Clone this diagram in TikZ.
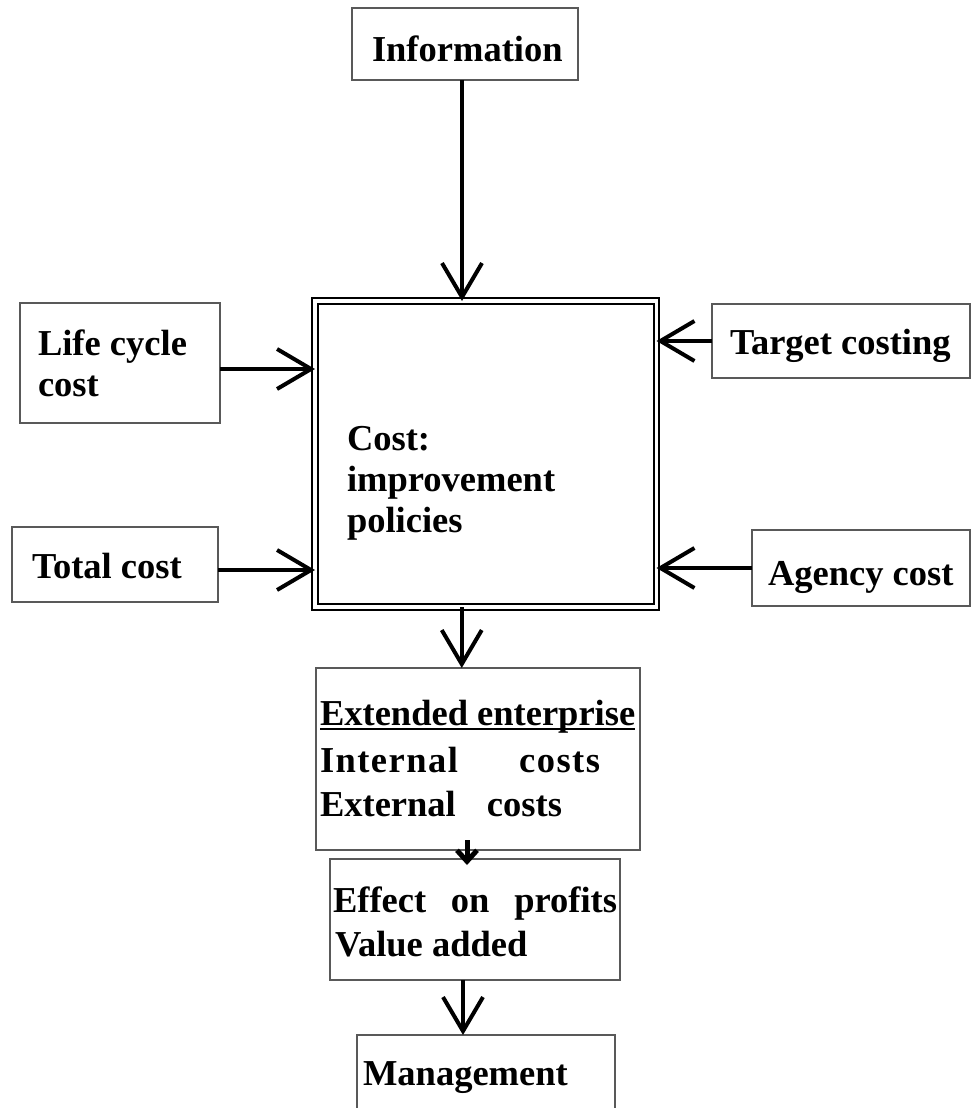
\documentclass[tikz,border=0pt]{standalone}
\usepackage{fontspec}
\setmainfont{Liberation Serif}
\usetikzlibrary{arrows.meta}
\begin{document}
\begin{tikzpicture}[x=1pt,y=-1pt,
  box/.style={draw=black!65, line width=1.3pt, inner sep=0pt, outer sep=0pt},
  corebox/.style={draw=black, double=white, double distance=3.5pt, line width=2.2pt, inner sep=0pt, outer sep=0pt},
  lbl/.style={font=\bfseries\fontsize{36.5}{40}\selectfont, inner sep=0pt, outer sep=0pt, anchor=base west},
  flow/.style={line width=4pt, -{Straight Barb[length=34pt,width=40pt]}},
  nub/.style={line width=5pt, -{Straight Barb[length=11pt,width=20pt]}}]

\useasboundingbox (0,0) rectangle (972,1108);
\clip (0,0) rectangle (972,1108);

% frames
\node[box, minimum width=226pt, minimum height=72pt]  (info)   at (465,44) {};
\node[box, minimum width=200pt, minimum height=120pt] (life)   at (120,363) {};
\node[box, minimum width=258pt, minimum height=74pt]  (target) at (841,341) {};
\node[box, minimum width=206pt, minimum height=75pt]  (total)  at (115,564.5) {};
\node[box, minimum width=218pt, minimum height=76pt]  (agency) at (861,568) {};
\node[corebox, minimum width=341.5pt, minimum height=306pt] (core) at (485.75,454) {};
\node[box, minimum width=324pt, minimum height=182pt] (ext)    at (478,759) {};
\node[box, minimum width=290pt, minimum height=121pt] (effect) at (475,919.5) {};
\node[box, minimum width=258pt, minimum height=90pt]  (mgmt)   at (486,1080) {};

% texts
\node[lbl] (infoT)   at (372,62)  {Information};
\node[lbl] (lifeA)   at (38,355)  {Life cycle};
\node[lbl] (lifeB)   at (38,396)  {cost};
\node[lbl] (totalT)  at (32,578)  {Total cost};
\node[lbl] (targetT) at (730,354) {Target costing};
\node[lbl] (agencyT) at (768,585) {Agency cost};
\node[lbl] (coreA)   at (347,450) {Cost:};
\node[lbl] (coreB)   at (347,491) {improvement};
\node[lbl] (coreC)   at (347,532) {policies};
\node[lbl] (extA)    at (320,725) {Extended enterprise};
\draw[line width=2pt] ([yshift=-4pt]extA.base west) -- ([yshift=-4pt]extA.base east);
\node[lbl] (extB)    at (320,772) {\makebox[280pt][s]{\addfontfeature{LetterSpace=4}Internal costs}};
\node[lbl] (extC)    at (320,816) {\makebox[242pt][s]{External costs}};
\node[lbl] (effA)    at (333,912) {\makebox[284pt][s]{Effect on profits}};
\node[lbl] (effB)    at (335,956) {Value added};
\node[lbl] (mgmtT)   at (363,1085) {Management};

% connectors
\draw[flow] ([xshift=-3pt]info.south) -- ([xshift=-3pt]info.south |- core.north);
\draw[flow] ([yshift=-6pt]life.east) -- ([yshift=-6pt]life.east -| core.west);
\draw[flow] ([yshift=-5.5pt]total.east) -- ([yshift=-5.5pt]total.east -| core.west);
\draw[flow] (target.west) -- (target.west -| core.east);
\draw[flow] (agency.west) -- (agency.west -| core.east);
\draw[flow] ([xshift=-24pt]core.south) -- ([xshift=-24pt]core.south |- ext.north);
\draw[nub] ([xshift=-11pt,yshift=10pt]ext.south) -- ([xshift=-11pt,yshift=-6pt]ext.south |- effect.north);
\draw[flow] ([xshift=-12pt]effect.south) -- ([xshift=-12pt]effect.south |- mgmt.north);
\end{tikzpicture}
\end{document}
